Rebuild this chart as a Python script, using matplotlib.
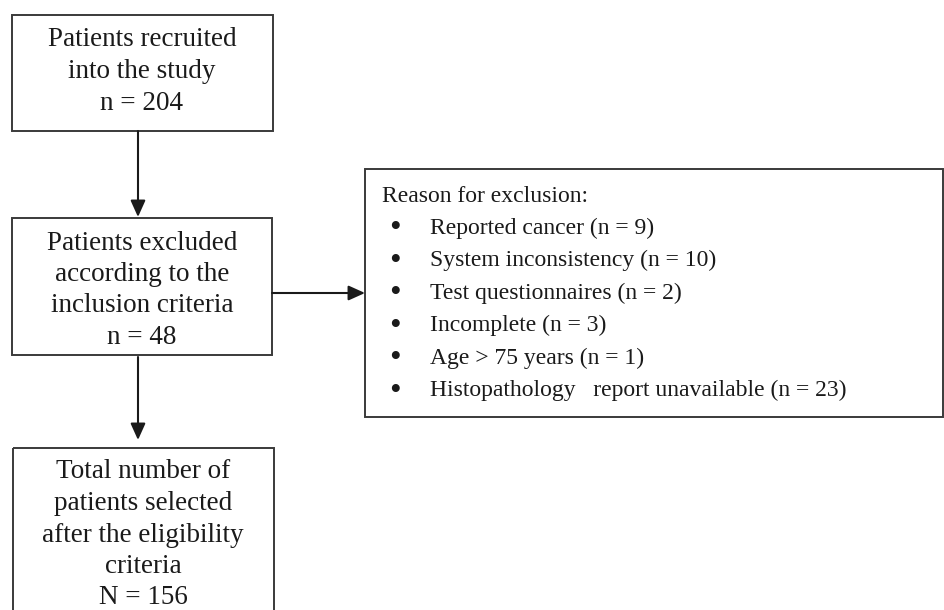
import matplotlib.pyplot as plt
from matplotlib.patches import Rectangle

# Flowchart text
recruited_lines = ["Patients recruited", "into the study", "n = 204"]
excluded_lines = ["Patients excluded", "according to the", "inclusion criteria", "n = 48"]
selected_lines = ["Total number of", "patients selected", "after the eligibility", "criteria", "N = 156"]
reasons_title = "Reason for exclusion:"
reasons = ["Reported cancer (n = 9)", "System inconsistency (n = 10)",
           "Test questionnaires (n = 2)", "Incomplete (n = 3)",
           "Age > 75 years (n = 1)", "Histopathology   report unavailable (n = 23)"]

W, H = 944, 610
fig = plt.figure(figsize=(W / 100, H / 100), dpi=100)
ax = fig.add_axes([0, 0, 1, 1])
ax.set_xlim(0, W)
ax.set_ylim(H, 0)
ax.axis("off")

FONT = dict(family="Liberation Serif", fontsize=19.5, color="#1a1a1a")
SMALL = dict(FONT, fontsize=17)
EDGE = "#3a3a3a"
LINE_H = 31.5


def box(x0, y0, x1, y1):
    ax.add_patch(Rectangle((x0, y0), x1 - x0, y1 - y0, fill=False,
                           edgecolor=EDGE, linewidth=1.4, clip_on=False))


def centered_lines(lines, cx, y_first):
    for i, s in enumerate(lines):
        ax.text(cx, y_first + i * LINE_H, s, ha="center", va="center", **FONT)


def arrow(x0, y0, x1, y1):
    ax.annotate("", xy=(x1, y1), xytext=(x0, y0),
                arrowprops=dict(arrowstyle="-|>,head_length=1.0,head_width=0.45",
                                color="#1a1a1a", lw=1.5, shrinkA=0, shrinkB=0))


# Box 1
box(12, 15, 273, 131)
centered_lines(recruited_lines, 142, 40)

# Box 2
box(12, 218, 272, 355)
centered_lines(excluded_lines, 142, 243)

# Box 4 (cut off at bottom)
box(13, 448, 274, 640)
centered_lines(selected_lines, 143, 472)

# Reasons box
box(365, 169, 943, 417)
ax.text(382, 196, reasons_title, ha="left", va="center", **SMALL)
for i, r in enumerate(reasons):
    y = 228 + i * 32.5
    ax.text(395, y + 1, "\u2022", ha="center", va="center",
            **dict(FONT, fontsize=24))
    ax.text(430, y, r, ha="left", va="center", **SMALL)

# Arrows
arrow(138, 131, 138, 217)
arrow(138, 357, 138, 440)
arrow(272, 293, 365, 293)

fig.savefig("out.png", dpi=100)
